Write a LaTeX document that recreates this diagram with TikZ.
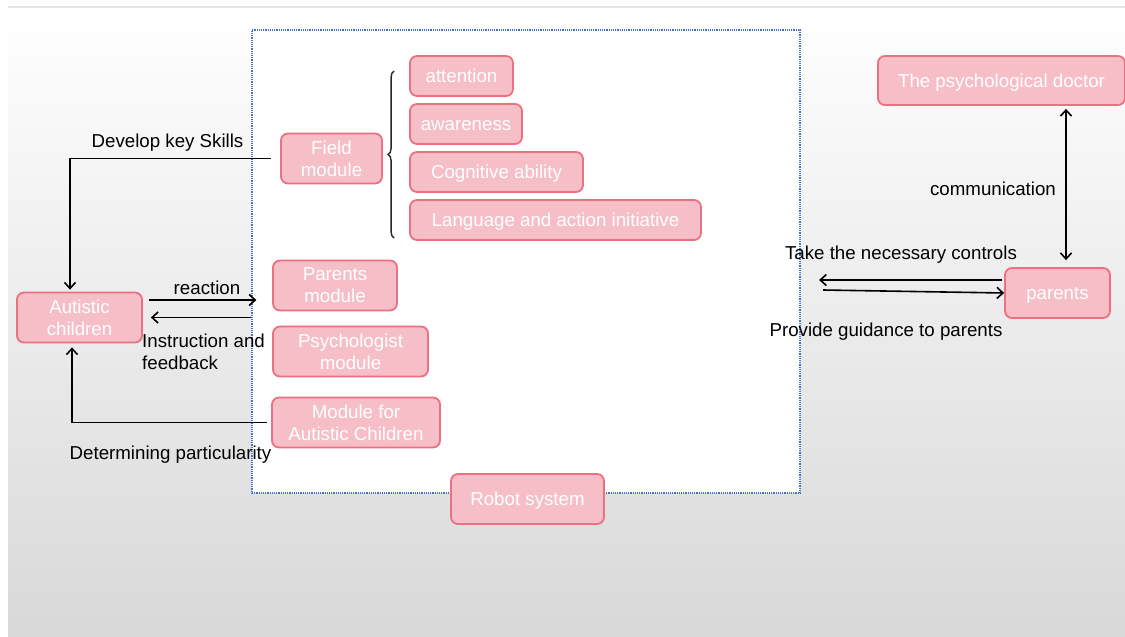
\documentclass[tikz,border=0pt]{standalone}
\usepackage{fontspec}
\setmainfont{Liberation Sans}
\usetikzlibrary{arrows.meta,calc,decorations.pathreplacing}
\definecolor{boxfill}{RGB}{246,191,200}
\definecolor{boxline}{RGB}{236,112,128}
\definecolor{framecol}{RGB}{68,114,196}
\definecolor{bgtop}{RGB}{253,253,253}
\definecolor{bgbot}{RGB}{216,216,216}
\tikzset{
  x=1pt, y=-1pt,
  every node/.style={font=\fontsize{18.7}{22}\selectfont},
  module/.style={draw=boxline, fill=boxfill, line width=1.8pt, rounded corners=7pt,
    text=white, inner sep=0pt, align=center},
  oneline/.style={text height=17.5pt, text depth=4pt},
  lbl/.style={text=black, inner sep=0pt},
  arr/.style={draw=black, line width=1.6pt, -{Straight Barb[length=6pt,width=11pt,line width=1.6pt]}},
  arrboth/.style={draw=black, line width=1.6pt, {Straight Barb[length=6pt,width=11pt,line width=1.6pt]}-{Straight Barb[length=6pt,width=11pt,line width=1.6pt]}},
}
\begin{document}
\begin{tikzpicture}
% page and backdrop
\useasboundingbox (0,0) rectangle (1125,637);
\fill[white] (0,0) rectangle (1125,637);
\shade[top color=bgtop, bottom color=bgbot] (8,33) rectangle (1125,637);
\draw[black!10, line width=2pt] (8,7) -- (1125,7);

% robot system frame
\node[draw=framecol, fill=white, line width=1.2pt, densely dotted,
      minimum width=548pt, minimum height=463pt, inner sep=0pt] (frame) at (526,261.5) {};

% modules
\node[module, minimum width=125pt, minimum height=50pt] (autistic) at (79.5,317.5) {Autistic\\children};
\node[module, minimum width=101pt, minimum height=50pt] (field) at (331.5,158.5) {Field\\module};
\node[module, oneline, minimum width=103pt, minimum height=40pt] (attention) at (461.5,76) {attention};
\node[module, oneline, minimum width=112pt, minimum height=40pt] (awareness) at (466,124) {awareness};
\node[module, oneline, minimum width=173pt, minimum height=40pt] (cognitive) at (496.5,172) {Cognitive ability};
\node[module, oneline, minimum width=291pt, minimum height=40pt] (language) at (555.5,220) {Language and action initiative};
\node[module, minimum width=124pt, minimum height=50pt] (parentsmod) at (335,285.5) {Parents\\module};
\node[module, minimum width=155pt, minimum height=50pt] (psychmod) at (350.5,351.5) {Psychologist\\module};
\node[module, minimum width=168pt, minimum height=50pt] (mac) at (356,422.5) {Module for\\Autistic Children};
\node[module, oneline, minimum width=153pt, minimum height=50pt] (robot) at (527.5,499) {Robot system};
\node[module, oneline, minimum width=247pt, minimum height=49pt] (doctor) at (1001.5,80.5) {The psychological doctor};
\node[module, oneline, minimum width=105pt, minimum height=50pt] (parents) at (1057.5,293) {parents};

% brace grouping the field skills
\draw[black!85, line width=1.4pt, decorate, decoration={brace, amplitude=6pt}]
  ($(language.south west)+(-15,-3)$) -- ($(attention.north west)+(-15,16)$);

% connectors on the left
\draw[arr] ($(field.west)+(-9,0)$) -| ($(autistic.north)+(-9.5,-2)$);
\node[lbl] (developlbl) at (167.5,143) {Develop key Skills};

\coordinate (reactstart) at ($(autistic.east)+(6,-17.5)$);
\draw[arr, shorten >=-5pt] (reactstart) -- (reactstart -| frame.west);
\node[lbl] (reactionlbl) at (207,288) {reaction};

\coordinate (instrend) at ($(autistic.east)+(8,0)$);
\draw[arr] (instrend -| frame.west) -- (instrend);
\node[lbl, align=left, anchor=north west] (instrlbl) at (142,334) {Instruction and\\feedback};

\draw[arr] ($(mac.west)+(-4,0)$) -| ($(autistic.south)+(-7.5,4)$);
\node[lbl] (determlbl) at (170.5,455) {Determining particularity};

% connectors on the right
\draw[arrboth] ($(doctor.south)+(64.5,3)$) -- ($(parents.north)+(8.5,-7)$);
\node[lbl] (commlbl) at (993,189) {communication};

\draw[arr] ($(parents.west)+(-2,-13)$) -- ($(parents.west)+(-185,-13)$);
\node[lbl] (takelbl) at (901,255) {Take the necessary controls};

\draw[arr] ($(parents.west)+(-181,-3)$) -- ($(parents.west)+(0,0)$);
\node[lbl] (guidelbl) at (886,332) {Provide guidance to parents};
\end{tikzpicture}
\end{document}
